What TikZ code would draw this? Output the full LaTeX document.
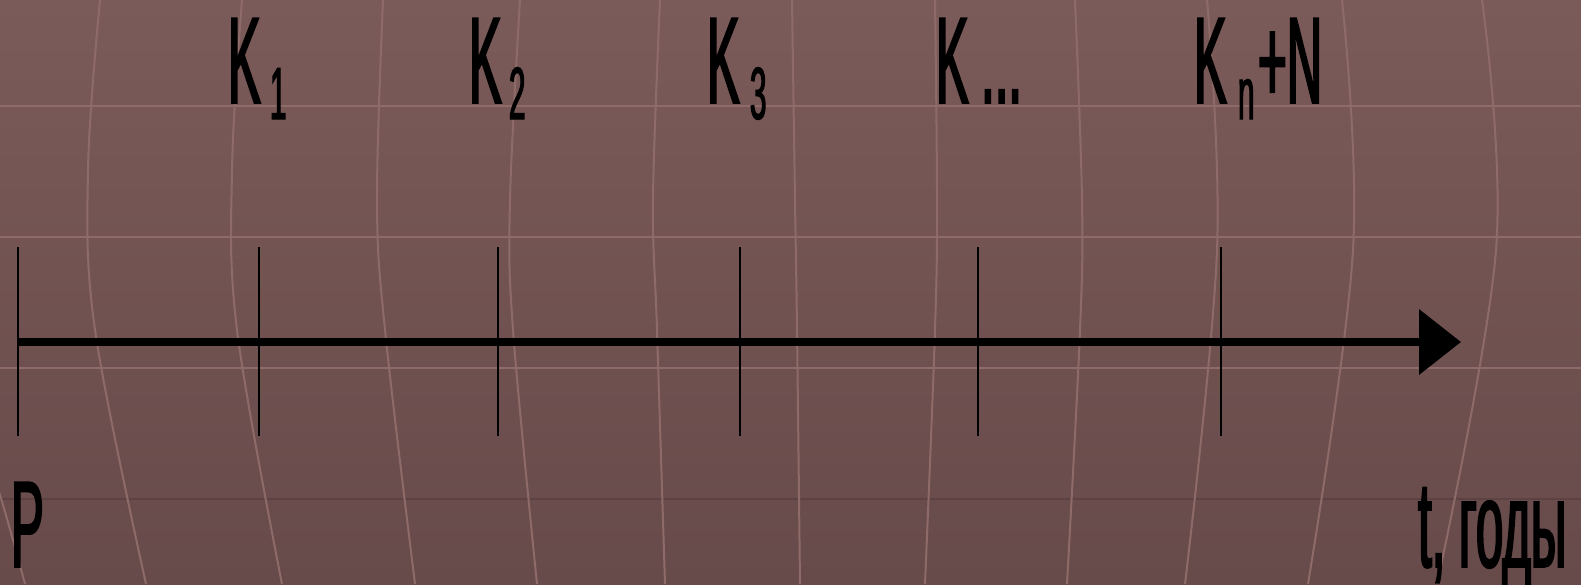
\documentclass[tikz,border=0pt]{standalone}
\usepackage{fontspec}
\setmainfont{Liberation Sans}[FakeStretch=0.4,FakeBold=1.5]
\usetikzlibrary{arrows.meta}
\definecolor{bgtop}{RGB}{123,91,89}
\definecolor{bgbot}{RGB}{103,74,74}
\definecolor{gridc}{RGB}{142,107,104}
\definecolor{darkc}{RGB}{92,66,66}
\begin{document}
\begin{tikzpicture}[x=1pt,y=-1pt,
  lbl/.style={inner sep=0pt,outer sep=0pt,anchor=base west,font=\fontsize{123}{130}\selectfont},
  sublbl/.style={inner sep=0pt,outer sep=0pt,anchor=base west,font=\fontsize{74}{80}\selectfont},
  gridline/.style={draw=gridc,line width=2pt},
  meridian/.style={draw=gridc,line width=2pt,smooth,tension=0.6},
  tickline/.style={line width=2.5pt,line cap=butt},
  axisline/.style={line width=7.5pt,-{Triangle[length=42pt,width=64pt]}}]
\useasboundingbox (0,0) rectangle (1581,584);
\shade[top color=bgtop,bottom color=bgbot] (0,0) rectangle (1581,584);
\begin{scope}
\clip (0,0) rectangle (1581,584);
\draw[gridline] (0,106) -- (1581,106);
\draw[gridline] (0,237) -- (1581,237);
\draw[gridline] (0,368) -- (1581,368);
\draw[draw=darkc,line width=2.5pt] (0,499) -- (1581,499);
\draw[meridian] plot coordinates {(-20,440) (0,495) (25,584)};
\draw[meridian] plot coordinates {(100,0) (88,170) (95,330) (146,584)};
\draw[meridian] plot coordinates {(242,0) (232,170) (237,330) (282,584)};
\draw[meridian] plot coordinates {(383,0) (377,200) (385,330) (415,584)};
\draw[meridian] plot coordinates {(520,0) (510,200) (513,330) (537,584)};
\draw[meridian] plot coordinates {(660,0) (653,200) (657,330) (665,584)};
\draw[meridian] plot coordinates {(792,0) (795,200) (797,330) (800,584)};
\draw[meridian] plot coordinates {(935,0) (937,200) (935,330) (925,584)};
\draw[meridian] plot coordinates {(1075,0) (1082,200) (1080,330) (1067,584)};
\draw[meridian] plot coordinates {(1207,0) (1217,250) (1185,584)};
\draw[meridian] plot coordinates {(1342,0) (1353,250) (1308,584)};
\draw[meridian] plot coordinates {(1482,0) (1496,250) (1437,584)};
\end{scope}
% axis
\coordinate (astart) at (18,342);
\coordinate (aend) at (1461,342);
\draw[axisline] (astart) -- (aend);
% ticks
\foreach \n/\x in {0/18,1/259,2/498,3/740,4/978,5/1221}{
  \coordinate (t\n a) at (\x,247);
  \coordinate (t\n b) at (\x,436);
  \draw[tickline] (t\n a) -- (t\n b);
}
% labels
\node[lbl] (k1) at (228,103) {K};
\node[sublbl] (k1s) at (270,119) {1};
\node[lbl] (k2) at (469,103) {K};
\node[sublbl] (k2s) at (509,119) {2};
\node[lbl] (k3) at (707,103) {K};
\node[sublbl] (k3s) at (750,119) {3};
\node[lbl] (k4) at (936,103) {K};
\node[lbl] (k4s) at (981,103) {...};
\node[lbl] (k5) at (1194,103) {K};
\node[sublbl] (k5s) at (1238,119) {n};
\node[lbl] (k5t) at (1258,103) {+N};
\node[lbl] (p) at (11,567) {P};
\node[lbl] (t) at (1418,567) {t, годы};
\end{tikzpicture}
\end{document}
